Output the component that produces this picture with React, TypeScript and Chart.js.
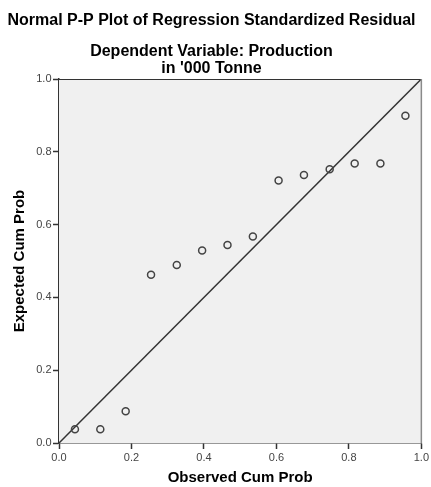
import React, { useEffect, useRef } from "react";
import { Chart, registerables } from "chart.js";

Chart.register(...registerables);

const MAIN_TITLE = "Normal P-P Plot of Regression Standardized Residual";
const SUBTITLE_LINES = ["Dependent Variable: Production", "in '000 Tonne"];
const X_TITLE = "Observed Cum Prob";
const Y_TITLE = "Expected Cum Prob";

const OBSERVED = [0.044, 0.114, 0.184, 0.254, 0.325, 0.395, 0.465, 0.535, 0.606, 0.676, 0.747, 0.816, 0.887, 0.956];
const EXPECTED = [0.038, 0.038, 0.087, 0.462, 0.489, 0.529, 0.544, 0.567, 0.721, 0.736, 0.752, 0.768, 0.768, 0.899];
const DIAGONAL_X = [0, 1];
const DIAGONAL_Y = [0, 1];
const TICK_LABELS = ["0.0", "0.2", "0.4", "0.6", "0.8", "1.0"];

const FONT = "'Liberation Sans', Arial, sans-serif";

const plotFrame = {
  id: "plotFrame",
  beforeDatasetsDraw(chart: any) {
    const { ctx, chartArea } = chart;
    ctx.save();
    ctx.fillStyle = "#f0f0f0";
    ctx.fillRect(chartArea.left, chartArea.top, chartArea.right - chartArea.left, chartArea.bottom - chartArea.top);
    ctx.restore();
  },
  afterDatasetsDraw(chart: any) {
    const { ctx, chartArea } = chart;
    ctx.save();
    ctx.strokeStyle = "#333333";
    ctx.lineWidth = 1;
    ctx.beginPath();
    ctx.moveTo(chartArea.left, chartArea.top + 0.5);
    ctx.lineTo(chartArea.right, chartArea.top + 0.5);
    ctx.stroke();
    ctx.strokeStyle = "#8a8a8a";
    ctx.lineWidth = 1.5;
    ctx.beginPath();
    ctx.moveTo(chartArea.right, chartArea.top);
    ctx.lineTo(chartArea.right, chartArea.bottom);
    ctx.stroke();
    ctx.restore();
  },
};

export default function App() {
  const canvasRef = useRef<HTMLCanvasElement | null>(null);

  useEffect(() => {
    const canvas = canvasRef.current;
    if (!canvas) return;
    const points = OBSERVED.map((x, i) => ({ x, y: EXPECTED[i] }));
    const diag = DIAGONAL_X.map((x, i) => ({ x, y: DIAGONAL_Y[i] }));
    const tickFont = { family: FONT, size: 11 };
    const chart = new Chart(canvas, {
      type: "scatter",
      data: {
        datasets: [
          {
            type: "scatter",
            data: points,
            pointStyle: "circle",
            pointRadius: 3.5,
            pointBorderWidth: 1.5,
            borderColor: "#444444",
            backgroundColor: "rgba(0,0,0,0)",
            order: 0,
          } as any,
          {
            type: "line",
            data: diag,
            borderColor: "#333333",
            borderWidth: 1.5,
            pointRadius: 0,
            fill: false,
            order: 1,
          } as any,
        ],
      },
      plugins: [plotFrame],
      options: {
        animation: false,
        responsive: false,
        layout: { padding: { left: 0, right: 8, top: 0, bottom: 0 } },
        plugins: {
          legend: { display: false },
          tooltip: { enabled: false },
          title: {
            display: true,
            text: MAIN_TITLE,
            color: "#000000",
            font: { family: FONT, size: 16, weight: "bold", lineHeight: 1.2 },
            padding: { top: 11, bottom: 0 },
          },
          subtitle: {
            display: true,
            text: SUBTITLE_LINES,
            color: "#000000",
            font: { family: FONT, size: 16, weight: "bold", lineHeight: 1.0625 },
            padding: { top: 12.7, bottom: 2.1 },
          },
        },
        scales: {
          x: {
            type: "linear",
            position: "bottom",
            min: 0,
            max: 1,
            afterFit(scale: any) {
              scale.height = 44;
            },
            ticks: {
              stepSize: 0.2,
              color: "#444444",
              font: tickFont,
              padding: 2,
              maxRotation: 0,
              callback: (_v: any, i: number) => TICK_LABELS[i],
            },
            grid: { drawOnChartArea: false, drawTicks: true, tickLength: 6, tickColor: "#333333", tickWidth: 1.5 },
            border: { display: true, color: "#333333", width: 1.5 },
            title: {
              display: true,
              text: X_TITLE,
              color: "#000000",
              font: { family: FONT, size: 15, weight: "bold", lineHeight: 1.2 },
              padding: { top: 0, bottom: 0 },
            },
          },
          y: {
            type: "linear",
            position: "left",
            min: 0,
            max: 1,
            afterFit(scale: any) {
              scale.width = 59;
            },
            ticks: {
              stepSize: 0.2,
              color: "#444444",
              font: tickFont,
              padding: 1.5,
              callback: (_v: any, i: number) => TICK_LABELS[i],
            },
            grid: { drawOnChartArea: false, drawTicks: true, tickLength: 6, tickColor: "#333333", tickWidth: 1.5 },
            border: { display: true, color: "#333333", width: 1.5 },
            title: {
              display: true,
              text: Y_TITLE,
              color: "#000000",
              font: { family: FONT, size: 15, weight: "bold", lineHeight: 1.2 },
              padding: { top: 11, bottom: 0 },
            },
          },
        },
      } as any,
    });
    return () => chart.destroy();
  }, []);

  return (
    <div style={{ position: "absolute", left: 0, top: 0, width: 431, height: 487, background: "#ffffff" }}>
      <canvas ref={canvasRef} width={431} height={487} style={{ display: "block", width: 431, height: 487 }} />
    </div>
  );
}
